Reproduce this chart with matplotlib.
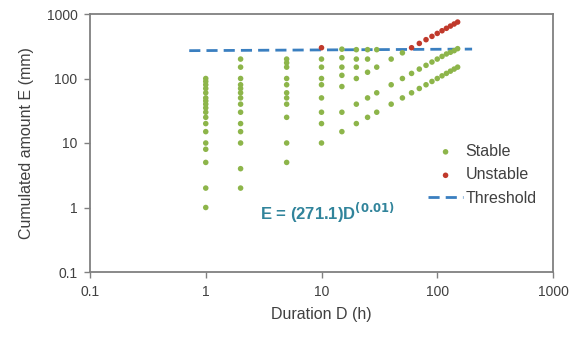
import matplotlib
matplotlib.use("Agg")
import matplotlib.pyplot as plt
import numpy as np

plt.rcParams['font.family'] = ['Liberation Sans', 'DejaVu Sans']

# Stable events: duration (h) and cumulated amount (mm)
stable_d1 = [1] * 18
stable_e1 = [1, 2, 5, 8, 10, 15, 20, 25, 30, 35, 40, 45, 50, 60, 70, 80, 90, 100]
stable_d2 = [2] * 14
stable_e2 = [2, 4, 10, 15, 20, 30, 40, 50, 60, 70, 80, 100, 150, 200]
stable_d5 = [5] * 11
stable_e5 = [5, 10, 25, 40, 50, 60, 80, 100, 150, 175, 200]
stable_d10 = [10] * 8
stable_e10 = [10, 20, 30, 50, 80, 100, 150, 200]
stable_d15 = [15] * 7
stable_e15 = [15, 30, 75, 112, 150, 210, 285]
stable_d20 = [20] * 6
stable_e20 = [20, 40, 100, 150, 200, 280]
stable_d25 = [25] * 5
stable_e25 = [25, 50, 125, 200, 280]
stable_d30 = [30] * 4
stable_e30 = [30, 60, 150, 280]
stable_d40 = [40] * 3
stable_e40 = [40, 80, 200]
stable_d50 = [50] * 3
stable_e50 = [50, 100, 250]
diag_d = [60, 70, 80, 90, 100, 110, 120, 130, 140, 150]
diag_e_low = [60, 70, 80, 90, 100, 110, 120, 130, 140, 150]
diag_e_high = [120, 140, 160, 180, 200, 220, 240, 255, 270, 290]

# Unstable events
unstable_d = [10, 60, 70, 80, 90, 100, 110, 120, 130, 140, 150]
unstable_e = [300, 300, 350, 400, 450, 500, 550, 600, 650, 700, 750]

# Threshold E = 271.1 * D^0.01
thr_coef = 271.1
thr_exp = 0.01
thr_d = [0.72, 200]

stable_d = (stable_d1 + stable_d2 + stable_d5 + stable_d10 + stable_d15 + stable_d20
            + stable_d25 + stable_d30 + stable_d40 + stable_d50 + diag_d + diag_d)
stable_e = (stable_e1 + stable_e2 + stable_e5 + stable_e10 + stable_e15 + stable_e20
            + stable_e25 + stable_e30 + stable_e40 + stable_e50 + diag_e_low + diag_e_high)

fig = plt.figure(figsize=(5.77, 3.4), dpi=100)
ax = fig.add_axes([90/577, 1-272/340, (553-90)/577, (272-14)/340])

green = '#8DB54A'
red = '#C0392B'
blue = '#3A7FC0'
gray = '#808080'
txt = '#404040'

ax.scatter(stable_d, stable_e, s=16, color=green, edgecolors='none', label='Stable', zorder=3)
ax.scatter(unstable_d, unstable_e, s=16, color=red, edgecolors='none', label='Unstable', zorder=3)
td = np.array(thr_d)
ax.plot(td, thr_coef * td ** thr_exp, color=blue, lw=2, dashes=(4, 2.2), label='Threshold', zorder=2)

ax.set_xscale('log')
ax.set_yscale('log')
ax.set_xlim(0.1, 1000)
ax.set_ylim(0.1, 1000)
ax.set_xticks([0.1, 1, 10, 100, 1000])
ax.set_xticklabels(['0.1', '1', '10', '100', '1000'])
ax.set_yticks([0.1, 1, 10, 100, 1000])
ax.set_yticklabels(['0.1', '1', '10', '100', '1000'])
ax.minorticks_off()
ax.tick_params(axis='both', direction='out', length=4, width=1, color=gray,
               labelsize=10, labelcolor=txt, pad=5)
for sp in ax.spines.values():
    sp.set_color(gray)
    sp.set_linewidth(1.3)

ax.set_xlabel('Duration D (h)', fontsize=11.5, color=txt, labelpad=6)
ax.set_ylabel('Cumulated amount E (mm)', fontsize=11.5, color=txt, labelpad=9)

ax.text(0.367, 0.229, r'E = (271.1)D$^{\mathbf{(0.01)}}$', transform=ax.transAxes,
        fontsize=12, fontweight='bold', color='#31849B', ha='left', va='center')

leg = ax.legend(loc='upper left', bbox_to_anchor=(0.730, 0.496), frameon=False,
                fontsize=11.5, labelcolor=txt, handlelength=2.2, handletextpad=0.15,
                labelspacing=0.53, borderaxespad=0, borderpad=0)

fig.savefig('out.png', dpi=100)
